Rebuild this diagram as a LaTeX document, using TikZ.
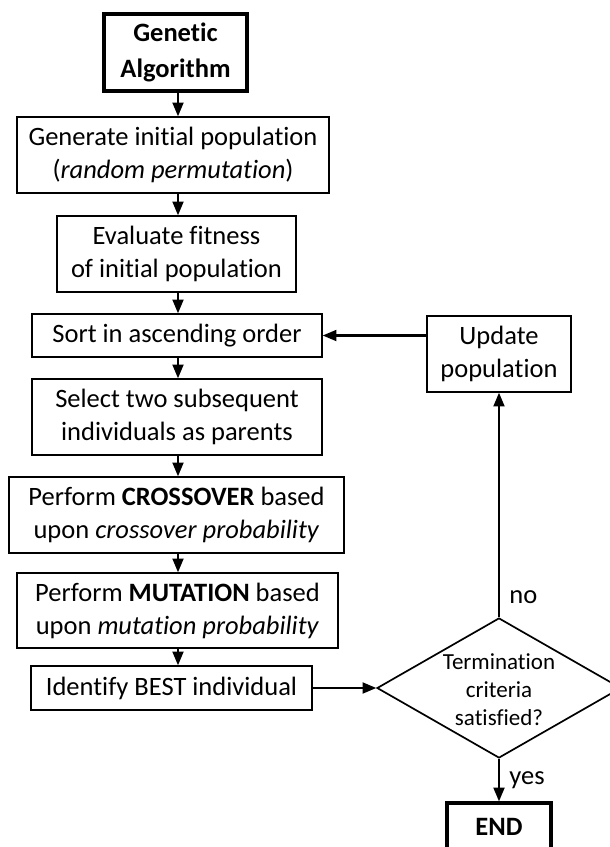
\documentclass[tikz,border=0pt]{standalone}
\usepackage{fontspec}
\setmainfont[Ligatures=NoCommon]{Carlito}
\usetikzlibrary{arrows, shapes.geometric}

\begin{document}
\begin{tikzpicture}[x=1pt, y=-1pt,
					>=triangle 45,
					line width=2.2pt,
					font=\fontsize{26.5}{33}\selectfont,
					box/.style={draw, rectangle, line width=1.7pt, align=center, inner sep=0pt},
					endbox/.style={box, line width=3.6pt, font=\fontsize{26.5}{36}\selectfont\bfseries},
					decision/.style={draw, diamond, line width=1.7pt, inner sep=0pt},
					every edge/.style={draw, ->, line width=2.2pt}]

	\useasboundingbox (0,0) rectangle (610,847);
	\coordinate (axis) at (178,0);

	\node[endbox, minimum width=143, minimum height=77] (ga) at (175.5,52.5) {Genetic\\Algorithm};
	\node[box, minimum width=312, minimum height=76] (gen) at (173,155) {Generate initial population\\(\textit{random permutation})};
	\node[box, minimum width=239, minimum height=76] (eval) at (176.5,254) {Evaluate fitness\\of initial population};
	\node[box, minimum width=290, minimum height=43] (sort) at (177,335.5) {Sort in ascending order};
	\node[box, minimum width=290, minimum height=76] (sel) at (177,417) {Select two subsequent\\individuals as parents};
	\node[box, minimum width=335, minimum height=76] (cross) at (176.5,515) {Perform \textbf{CROSSOVER} based\\upon \textit{crossover probability}};
	\node[box, minimum width=321, minimum height=75] (mut) at (177.5,610.5) {Perform \textbf{MUTATION} based\\upon \textit{mutation probability}};
	\node[box, minimum width=281, minimum height=44] (best) at (171.5,688) {Identify BEST individual};
	\node[decision, minimum width=244, minimum height=140] (term) at (499,688)
		{\smash{\makebox[0pt]{\raisebox{-10pt}{\fontsize{23}{28}\selectfont\begin{tabular}{@{}c@{}}Termination\\criteria\\satisfied?\end{tabular}}}}};
	\node[box, minimum width=144, minimum height=76] (upd) at (499,354) {Update\\population};
	\node[endbox, minimum width=104, minimum height=48] (end) at (499,827) {END};

	\draw[-] (ga.south -| axis) edge (gen.north -| axis)
			(gen.south -| axis) edge (eval.north -| axis)
			(eval.south -| axis) edge (sort.north -| axis)
			(sort.south -| axis) edge (sel.north -| axis)
			(sel.south -| axis) edge (cross.north -| axis)
			(cross.south -| axis) edge (mut.north -| axis)
			(mut.south -| axis) edge (best.north -| axis)
			(best.east) edge (term.west)
			(term.north) edge node[pos=0.09, right, xshift=6pt] {no} (upd.south)
			(sort.east -| upd.west) edge (sort.east)
			(term.south) edge node[pos=0.5, right, xshift=6pt] {yes} (end.north)
;
\end{tikzpicture}
\end{document}
